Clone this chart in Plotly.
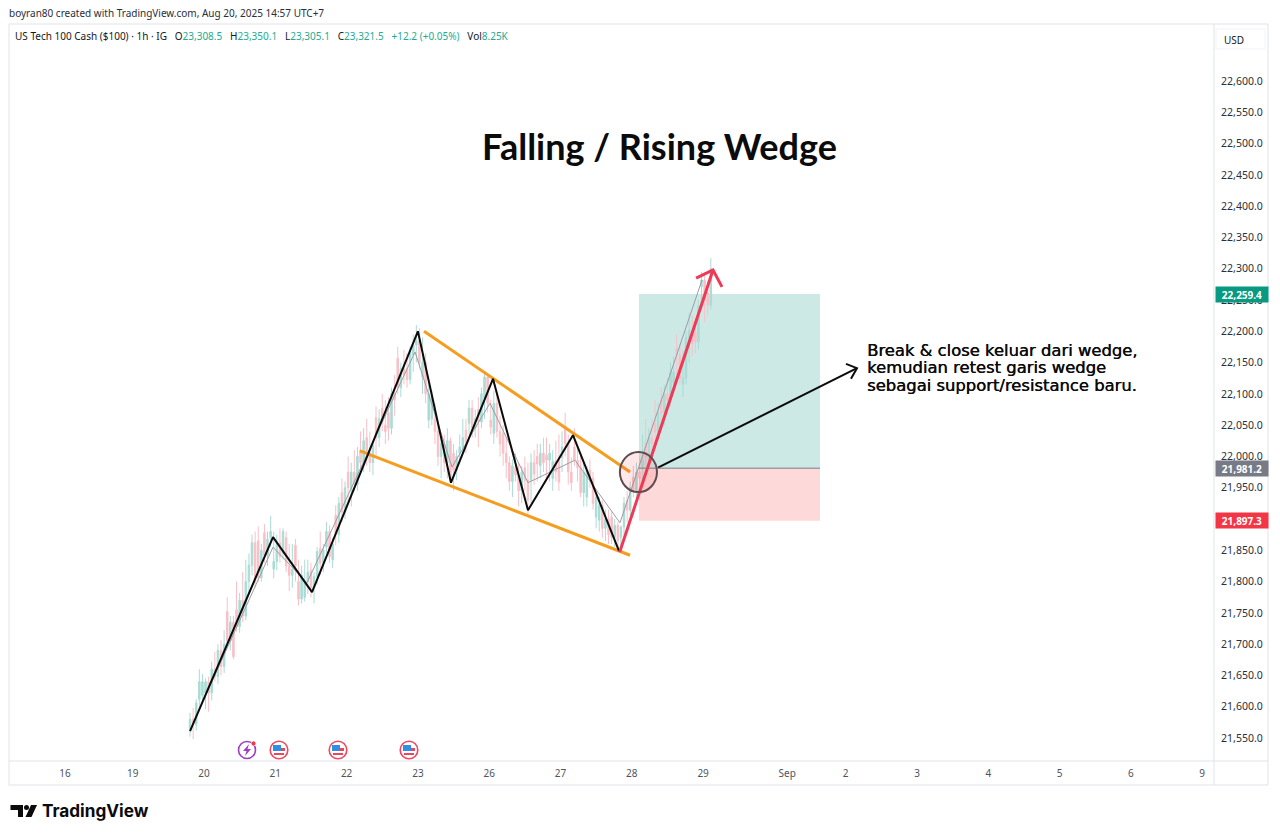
import numpy as np
import plotly.graph_objects as go

# sessions on the x axis: 20 Aug = 0, one unit = one trading day (23 hourly bars)
first_bar = -0.196
bars_per_day = 23

bar_open = [21565,21580,21572,21612,21618,21622,21640,21622,21660,21648,21690,21664,21752,21705,21735,21755,21728,21770,21745,21800,
21826,21862,21865,21806,21878,21842,21870,21820,21832,21862,21845,21870,21825,21810,21858,21800,21772,21775,21800,21818,
21790,21808,21853,21830,21855,21880,21835,21906,21875,21942,21911,21975,21945,21975,21955,22010,21990,22030,22005,21990,
22062,22030,22077,22050,22070,22045,22100,22157,22110,22140,22140,22123,22162,22178,22185,22127,22150,22058,22060,22060,
22040,22000,22020,21990,22025,22005,21978,22005,22015,22042,22053,22077,22045,22075,22055,22093,22127,22058,22037,22085,
22040,22037,22005,21990,21960,21982,21970,21945,21982,21962,21962,21990,22000,21985,22005,22002,21994,21965,21992,21994,
21998,22048,22020,21975,22015,21994,21982,21942,21935,21978,21965,21903,21898,21922,21885,21900,21903,21871,21890,21871,
21887,21930,21914,21967,21946,21975,21981,22022,21998,22030,22053,22039,22090,22069,22100,22090,22117,22173,22162,22115,
22125,22189,22202,22199,22183,22271,22282,22261,22242]
bar_high = [21590,21598,21612,21660,21652,21645,21648,21672,21688,21700,21706,21722,21775,21745,21745,21800,21782,21815,21835,21845,
21875,21880,21888,21860,21892,21880,21905,21880,21875,21885,21885,21880,21860,21860,21868,21835,21825,21835,21835,21830,
21815,21855,21880,21860,21895,21890,21870,21922,21935,21965,21960,22000,21990,22010,22015,22040,22045,22060,22040,22025,
22080,22075,22100,22090,22095,22110,22130,22175,22150,22170,22165,22175,22195,22210,22205,22190,22165,22115,22105,22085,
22055,22030,22035,22045,22030,22020,22010,22035,22060,22060,22090,22090,22075,22095,22110,22135,22130,22090,22105,22100,
22065,22050,22030,22000,21995,22005,21990,21985,22000,21990,22005,22010,22020,22020,22030,22030,22020,22010,22025,22035,
22040,22070,22035,21998,22045,22015,22005,21990,21985,21995,21975,21940,21935,21930,21915,21915,21912,21900,21895,21890,
21935,21945,21960,21985,21990,22000,22035,22060,22045,22060,22090,22085,22110,22115,22125,22150,22160,22195,22180,22170,
22200,22230,22225,22215,22250,22295,22295,22280,22317]
bar_low = [21552,21548,21562,21600,21608,21596,21592,21610,21640,21636,21650,21654,21695,21690,21676,21720,21718,21735,21738,21780,
21810,21790,21800,21800,21830,21825,21855,21805,21818,21830,21835,21815,21785,21790,21800,21762,21765,21768,21780,21775,
21765,21795,21810,21815,21845,21830,21822,21858,21862,21895,21900,21925,21920,21945,21945,21980,21975,21985,21975,21970,
22000,22015,22040,22020,22025,22035,22065,22100,22095,22115,22110,22115,22135,22150,22140,22100,22085,22045,22050,22020,
21985,21965,21975,21965,21958,21945,21962,21990,22005,22005,22035,22030,22030,22015,22045,22060,22070,22035,22020,22030,
22000,21985,21965,21945,21935,21960,21920,21925,21945,21905,21925,21955,21960,21965,21975,21965,21960,21945,21960,21945,
21975,22000,21955,21945,21985,21960,21935,21920,21920,21950,21915,21885,21880,21870,21865,21860,21860,21855,21848,21850,
21875,21895,21905,21935,21935,21950,21955,21985,21980,22010,22010,22025,22045,22050,22075,22080,22100,22130,22115,22095,
22115,22150,22160,22165,22170,22235,22215,22225,22235]
bar_close = [21580,21572,21606,21640,21640,21640,21622,21660,21648,21690,21664,21700,21705,21735,21680,21728,21770,21745,21800,21826,
21862,21800,21806,21850,21842,21868,21880,21832,21862,21840,21880,21825,21810,21820,21825,21772,21810,21800,21815,21790,
21808,21848,21829,21850,21880,21840,21860,21878,21925,21911,21950,21950,21975,21955,22000,21990,22025,22005,21990,22018,
22030,22060,22053,22040,22045,22100,22090,22110,22140,22130,22123,22165,22178,22185,22150,22150,22100,22100,22098,22040,
22000,22020,21990,22025,21965,21978,22000,22015,22030,22022,22077,22045,22060,22055,22100,22127,22085,22047,22085,22040,
22020,22005,21990,21960,21985,21970,21945,21975,21962,21930,21990,21972,21988,22005,21990,21994,22005,21992,21975,21959,
22015,22020,21975,21958,21994,21982,21942,21975,21978,21965,21925,21935,21922,21885,21900,21875,21871,21890,21865,21887,
21925,21914,21950,21946,21975,21965,21994,21998,22030,22020,22039,22070,22069,22100,22090,22135,22135,22162,22125,22125,
22190,22202,22180,22183,22240,22282,22250,22242,22300]

# axis labels
price_ticks = [21550,21600,21650,21700,21750,21800,21850,21900,21950,22000,22050,22100,22150,22200,22250,22300,22350,22400,22450,22500,22550,22600]
day_ticks = [-1.95,-1,0,1,2,3,4,5,6,7,8.18,9,10,11,12,13,14]
day_labels = ["16","19","20","21","22","23","26","27","28","29","Sep","2","3","4","5","6","9"]

# drawings on the chart, read in (day, price)
swing_x = [-0.196,0.968,1.515,3.0,3.464,4.053,4.544,5.175,5.82]
swing_y = [21561,21871,21783,22200,21958,22124,21914,22034,21849]
thin_x = [-0.196,0.968,1.444,2.96,3.478,4.011,4.544,5.203,5.834,6.985]
thin_y = [21563,21855,21798,22167,21983,22085,21958,21994,21894,22282]
wedge_top_x = [3.086,5.975]
wedge_top_y = [22200,21975]
wedge_low_x = [2.188,5.975]
wedge_low_y = [22009,21842]
red_x = [5.83,7.139]
red_y = [21847,22298]
red_head_x = [6.902,7.139,7.265]
red_head_y = [22285,22298,22271]
note_x = [6.367,9.158]
note_y = [21982,22141]
note_head_x = [9.004,9.158,9.074]
note_head_y = [22148,22141,22124]
retest_x = [5.833,6.353]
retest_y = [21943,22007]
pos_x = [6.10,8.64]
pos_target = 22259.4
pos_entry = 21981.2
pos_stop = 21897.3

L, R, T, B = 9, 1214, 24, 761
W, H = 1280, 838
TEXT = "#131722"
FRAME = "#e0e3eb"
FONT = "Noto Sans, sans-serif"


def px(x):
    return (x - L) / (R - L)


def py(y):
    return (B - y) / (B - T)


fig = go.Figure()

bar_x = first_bar + np.arange(len(bar_open)) / bars_per_day
fig.add_trace(go.Candlestick(
    x=bar_x, open=bar_open, high=bar_high, low=bar_low, close=bar_close,
    increasing=dict(line=dict(color="#a9dcd5", width=1), fillcolor="#a9dcd5"),
    decreasing=dict(line=dict(color="#f8c0c7", width=1), fillcolor="#f8c0c7"),
    whiskerwidth=0, showlegend=False, hoverinfo="skip",
))


def line(xs, ys, color, width):
    fig.add_trace(go.Scatter(x=xs, y=ys, mode="lines", line=dict(color=color, width=width),
                             showlegend=False, hoverinfo="skip"))


line(thin_x, thin_y, "#9a9da5", 1)
line(wedge_top_x, wedge_top_y, "#f59d1e", 3)
line(wedge_low_x, wedge_low_y, "#f59d1e", 3)
line(swing_x, swing_y, "#0b0b0b", 2)
line(red_x, red_y, "#ee3a56", 3)
line(red_head_x, red_head_y, "#ee3a56", 3)
line(note_x, note_y, "#0b0b0b", 2)
line(note_head_x, note_head_y, "#0b0b0b", 2)

# long position box
fig.add_shape(type="rect", x0=pos_x[0], x1=pos_x[1], y0=pos_entry, y1=pos_target,
              fillcolor="#cde9e6", line_width=0, layer="below")
fig.add_shape(type="rect", x0=pos_x[0], x1=pos_x[1], y0=pos_stop, y1=pos_entry,
              fillcolor="#fdd9d9", line_width=0, layer="below")
fig.add_shape(type="line", x0=pos_x[0], x1=pos_x[1], y0=pos_entry, y1=pos_entry,
              line=dict(color="#787b86", width=1))
fig.add_shape(type="circle", x0=retest_x[0], x1=retest_x[1], y0=retest_y[0], y1=retest_y[1],
              fillcolor="rgba(242,54,69,0.12)", line=dict(color="#5e4b50", width=2))


def frame(x0, y0, x1, y1, **kw):
    fig.add_shape(type="rect", xref="paper", yref="paper", x0=px(x0), x1=px(x1), y0=py(y0), y1=py(y1), **kw)


# frame around the pane and the two axes
frame(9, 24, 1268, 785, line=dict(color=FRAME, width=1))
for seg in [(1214, 24, 1214, 785), (9, 761, 1268, 761)]:
    fig.add_shape(type="line", xref="paper", yref="paper", x0=px(seg[0]), x1=px(seg[2]),
                  y0=py(seg[1]), y1=py(seg[3]), line=dict(color=FRAME, width=1))
frame(1216, 29, 1265, 49, fillcolor="#ffffff", line=dict(color="#f0f3fa", width=1))


def circle(cx, cy, r, **kw):
    fig.add_shape(type="circle", xref="paper", yref="paper", x0=px(cx - r), x1=px(cx + r),
                  y0=py(cy + r), y1=py(cy - r), **kw)


def poly(points, **kw):
    d = "M " + " L ".join(f"{px(a):.5f},{py(b):.5f}" for a, b in points) + " Z"
    fig.add_shape(type="path", xref="paper", yref="paper", path=d, **kw)


# economic event badges under the candles
for cx in [279, 338, 409]:
    circle(cx, 750, 8.8, fillcolor="#ffffff", line=dict(color="#f0475f", width=1.6))
    frame(cx - 6, 745, cx + 2, 751, fillcolor="#2f8fe0", line_width=0)
    frame(cx + 2, 748, cx + 6, 751, fillcolor="#e8475c", line_width=0)
    frame(cx - 5, 753, cx + 5, 755, fillcolor="#e8475c", line_width=0)
circle(247, 750, 8.5, fillcolor="#ffffff", line=dict(color="#9c3fc4", width=1.6))
poly([(249, 744), (243, 751), (246.5, 751), (245, 756), (251, 749), (247.5, 749)], fillcolor="#9c3fc4", line_width=0)
circle(253.5, 743.5, 2.4, fillcolor="#f23645", line=dict(color="#ffffff", width=0.6))

# logo mark
poly([(10.5, 805), (23, 805), (23, 817), (18, 817), (18, 810), (10.5, 810)], fillcolor="#0b0b0b", line_width=0)
circle(26.5, 807.5, 2.5, fillcolor="#0b0b0b", line_width=0)
poly([(31, 805), (37, 805), (31.5, 817), (25.5, 817)], fillcolor="#0b0b0b", line_width=0)


def label(x, y, text, size=10, color=TEXT, family=FONT, anchor="left", shadow=None):
    font = dict(size=size, color=color, family=family)
    if shadow:
        font["shadow"] = shadow
    fig.add_annotation(xref="paper", yref="paper", x=px(x), y=py(y), text=text, showarrow=False,
                       xanchor=anchor, yanchor="middle", align="left", font=font)


def num(s):
    return f'<span style="color:#22ab94">{s}</span>'


GAP = "&nbsp;&nbsp;&nbsp;"
label(7, 13, "boyran80 created with TradingView.com, Aug 20, 2025 14:57 UTC+7", size=10, color="#2a2e39")
label(13, 36, "US Tech 100 Cash ($100) · 1h · IG" + GAP + "O" + num("23,308.5") + GAP + "H" + num("23,350.1")
      + GAP + "L" + num("23,305.1") + GAP + "C" + num("23,321.5") + GAP + num("+12.2 (+0.05%)")
      + GAP + "Vol" + num("8.25K"), size=10)
label(659, 146, "<b>Falling / Rising Wedge</b>", size=36, color="#0b0b0b", family="Lato", anchor="center")
note_lines = ["Break &amp; close keluar dari wedge,", "kemudian retest garis wedge", "sebagai support/resistance baru."]
for row, text in zip([350, 367.5, 385], note_lines):
    label(865, row, text, size=16.4, color="#0b0b0b", family="DejaVu Sans", shadow="0.4px 0 0 #0b0b0b")
label(40, 811, "<b>TradingView</b>", size=17.2, color="#0b0b0b", family="Inter")
label(1234, 40, "USD", size=10, anchor="center")

# price tags on the scale
for value, bg in [(pos_target, "#089981"), (pos_entry, "#787b86"), (pos_stop, "#f23645")]:
    fig.add_annotation(xref="paper", yref="y", x=px(1215), y=value, text=f"<b>{value:,.1f}</b>", showarrow=False,
                       xanchor="left", yanchor="middle", align="center", bgcolor=bg, width=50, height=13,
                       font=dict(size=10, color="#ffffff", family=FONT))

fig.update_layout(
    width=W, height=H, margin=dict(l=L, r=W - R, t=T, b=H - B, autoexpand=False),
    paper_bgcolor="#ffffff", plot_bgcolor="#ffffff", showlegend=False, dragmode=False,
    xaxis=dict(range=[(L - 204) / 71.3, (R - 204) / 71.3], rangeslider=dict(visible=False), showgrid=False,
               zeroline=False, tickmode="array", tickvals=day_ticks, ticktext=day_labels, ticks="outside",
               ticklen=3, tickcolor="rgba(0,0,0,0)", tickfont=dict(size=10, color="#50535e", family=FONT)),
    yaxis=dict(range=[21513.2, 22691.1], side="right", showgrid=False, zeroline=False, tickmode="array",
               tickvals=price_ticks, tickformat=",.1f", ticks="outside", ticklen=4, tickcolor="rgba(0,0,0,0)",
               tickfont=dict(size=10.5, color="#2a2e39", family=FONT)),
)

# the page's default body margin would push the chart 8px off
fig.write_html("out.html", config={"displayModeBar": False},
               post_script="document.body.style.margin='0';document.documentElement.style.overflow='hidden';")
